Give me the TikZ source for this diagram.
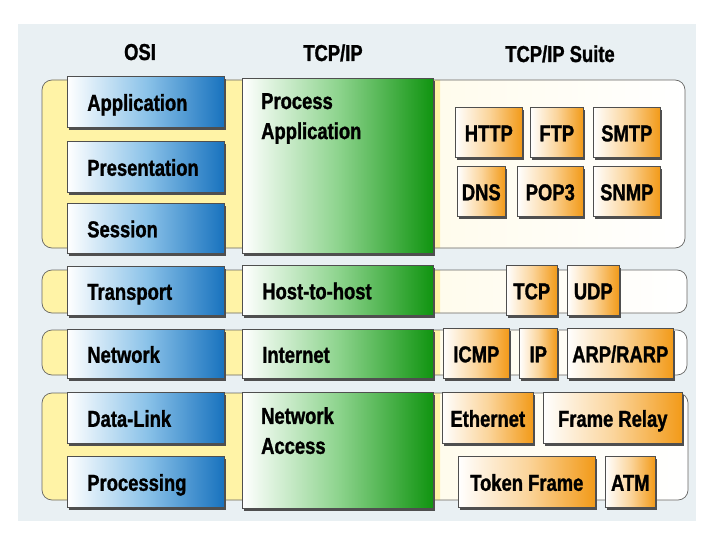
\documentclass[tikz,border=0pt]{standalone}
\usepackage{fontspec}
\newfontfamily\boxfont{Liberation Sans}[FakeStretch=0.8, BoldFeatures={FakeBold=1.2}]
\usetikzlibrary{shadows}

\definecolor{panelbg}{HTML}{E9F0F3}
\definecolor{bandyel}{HTML}{FFF3A6}
\definecolor{bandcream}{HTML}{FFF6CF}
\definecolor{osiblue}{HTML}{1872BE}
\definecolor{osibluemid}{HTML}{8CC3E9}
\definecolor{tcpgreen}{HTML}{109410}
\definecolor{tcpgreenmid}{HTML}{8ED48E}
\definecolor{suiteorange}{HTML}{F29A18}
\definecolor{suiteorangemid}{HTML}{FBD59C}
\definecolor{edgegray}{HTML}{4F4F4F}

\begin{document}
\begin{tikzpicture}[x=1pt, y=-1pt,
  lbl/.style={font=\boxfont\bfseries\fontsize{23}{30}\selectfont, text=black},
  onerow/.style={text height=18pt, text depth=0pt},
  layerbox/.style={draw=edgegray, line width=0.6pt, inner sep=0pt, anchor=north west,
                   drop shadow={shadow xshift=1.5pt, shadow yshift=-3pt,
                                fill=edgegray, opacity=1}},
  osibox/.style={layerbox, lbl, onerow, left color=white, right color=osiblue,
                 middle color=osibluemid, minimum width=157pt,
                 text width=117pt, align=left},
  tcpbox/.style={layerbox, lbl, onerow, left color=white, right color=tcpgreen,
                 middle color=tcpgreenmid, minimum width=191pt,
                 text width=151pt, align=left},
  suitebox/.style={layerbox, lbl, onerow, left color=white, right color=suiteorange,
                   middle color=suiteorangemid, minimum height=50pt},
  bandline/.style={draw=gray!80!black, line width=0.7pt},
  header/.style={lbl, onerow, inner sep=0pt},
]
  \useasboundingbox (0,0) rectangle (720,540);
  \fill[panelbg] (18,24) rectangle (696,521);

  % headers
  \node[header] (hosi)   at (140,51) {OSI};
  \node[header] (htcp)   at (333,52) {TCP/IP};
  \node[header] (hsuite) at (560,53) {TCP/IP Suite};

  % bands
  \foreach \top/\bot/\right in {80/248/685, 270/313/687, 330/375/687, 393/500/688}{
    \fill[bandcream, right color=white, left color=bandcream, rounded corners=10pt]
      (42,\top) rectangle (\right,\bot);
    \fill[bandyel, rounded corners=10pt] (440,\top) -- (42,\top) -- (42,\bot) -- (440,\bot);
    \draw[bandline, rounded corners=10pt] (42,\top) rectangle (\right,\bot);
  }

  % OSI layers
  \node[osibox, minimum height=51pt] (osiapp)   at (67,76)  {Application};
  \node[osibox, minimum height=51pt] (osipres)  at (67,141) {Presentation};
  \node[osibox, minimum height=50pt] (osisess)  at (67,203) {Session};
  \node[osibox, minimum height=49pt] (ositrans) at (67,266) {Transport};
  \node[osibox, minimum height=49pt] (osinet)   at (67,329) {Network};
  \node[osibox, minimum height=51pt] (osidata)  at (67,392) {Data-Link};
  \node[osibox, minimum height=51pt] (osiproc)  at (67,456) {Processing};

  % TCP/IP layers
  \node[tcpbox, minimum height=175pt] (tcpproc) at (242,78)  {};
  \node[lbl, inner sep=0pt, anchor=north west, align=left] (tcpproctext)
    at ([xshift=19pt, yshift=-15pt]tcpproc.north west) {Process\\Application};
  \node[tcpbox, minimum height=50pt]  (tcphost) at (242,265) {Host-to-host};
  \node[tcpbox, minimum height=49pt]  (tcpinet) at (242,329) {Internet};
  \node[tcpbox, minimum height=116pt] (tcpacc)  at (242,392) {};
  \node[lbl, inner sep=0pt, anchor=north west, align=left] (tcpacctext)
    at ([xshift=19pt, yshift=-15pt]tcpacc.north west) {Network\\Access};

  % protocol suite
  \node[suitebox, minimum width=67pt]  (http)  at (455,107) {HTTP};
  \node[suitebox, minimum width=53pt]  (ftp)   at (530,107) {FTP};
  \node[suitebox, minimum width=67pt]  (smtp)  at (593,107) {SMTP};
  \node[suitebox, minimum width=48pt]  (dns)   at (457,166) {DNS};
  \node[suitebox, minimum width=66pt]  (pop)   at (517,166) {POP3};
  \node[suitebox, minimum width=67pt]  (snmp)  at (593,166) {SNMP};
  \node[suitebox, minimum width=51pt]  (tcp)   at (506,265) {TCP};
  \node[suitebox, minimum width=52pt]  (udp)   at (567,265) {UDP};
  \node[suitebox, minimum width=66pt]  (icmp)  at (443,328) {ICMP};
  \node[suitebox, minimum width=38pt]  (ip)    at (519,328) {IP};
  \node[suitebox, minimum width=106pt] (arp)   at (567,328) {ARP/RARP};
  \node[suitebox, minimum width=91pt, minimum height=51pt]  (eth)   at (442,392) {Ethernet};
  \node[suitebox, minimum width=139pt, minimum height=51pt] (frame) at (543,392) {Frame Relay};
  \node[suitebox, minimum width=137pt, minimum height=51pt] (token) at (458,456) {Token Frame};
  \node[suitebox, minimum width=50pt, minimum height=51pt]  (atm)   at (605,456) {ATM};
\end{tikzpicture}
\end{document}
